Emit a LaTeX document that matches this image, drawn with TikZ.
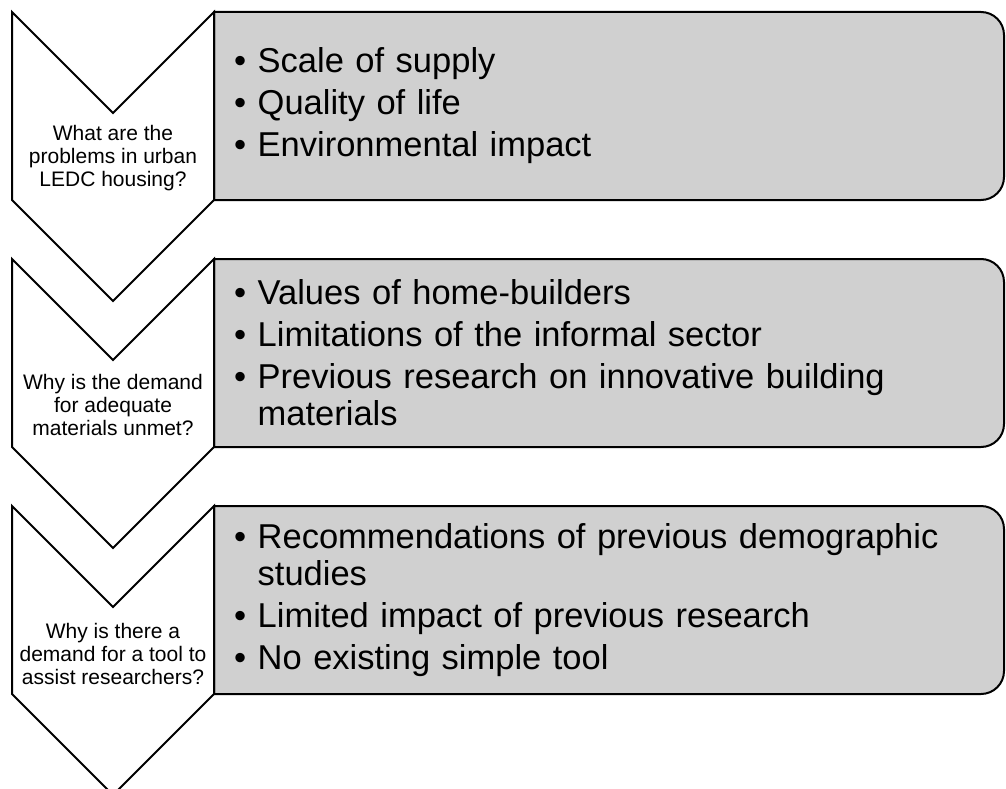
\documentclass[tikz,border=0pt]{standalone}
\usepackage{fontspec}
\setmainfont{Liberation Sans}
\definecolor{boxgray}{RGB}{208,208,208}
\tikzset{
  chev/.style={draw=black, line width=2pt, fill=white, line join=miter},
  gbox/.style={draw=black, line width=2pt, fill=boxgray},
  qtext/.style={align=center, font=\fontsize{21}{22.7}\selectfont, inner sep=0pt},
  btext/.style={anchor=west, text width=765pt, align=left, font=\fontsize{34.5}{36.7}\selectfont, inner sep=0pt},
}
\newcommand{\bitem}[1]{{\hangindent=23.5pt\hangafter=1\noindent\makebox[23.5pt][l]{•}#1\par}}
\begin{document}
\begin{tikzpicture}[x=1pt,y=-1pt]
\useasboundingbox (0,0) rectangle (1006,789);
\foreach \y in {12,259,506} {
  \draw[gbox] (214,\y) [rounded corners=23pt] -- (1004,\y) -- (1004,\y+188) [sharp corners] -- (214,\y+188) -- cycle;
  \draw[chev] (12,\y) -- (113,\y+101) -- (214,\y) -- (214,\y+188) -- (113,\y+289) -- (12,\y+188) -- cycle;
}
\node[qtext] (q1) at (113,158) {What are the\\problems in urban\\LEDC housing?};
\node[qtext] (q2) at (113,405) {Why is the demand\\for adequate\\materials unmet?};
\node[qtext] (q3) at (113,654) {Why is there a\\demand for a tool to\\assist researchers?};
\node[btext] (b1) at (234,106) {\setlength{\parskip}{5.3pt}%
\bitem{Scale of supply}
\bitem{Quality of life}
\bitem{Environmental impact}};
\node[btext] (b2) at (234,353) {\setlength{\parskip}{5.3pt}%
\bitem{Values of home-builders}
\bitem{Limitations of the informal sector}
\bitem{Previous research on innovative building\newline materials}};
\node[btext] (b3) at (234,600) {\setlength{\parskip}{5.3pt}%
\bitem{Recommendations of previous demographic\newline studies}
\bitem{Limited impact of previous research}
\bitem{No existing simple tool}};
\end{tikzpicture}
\end{document}
